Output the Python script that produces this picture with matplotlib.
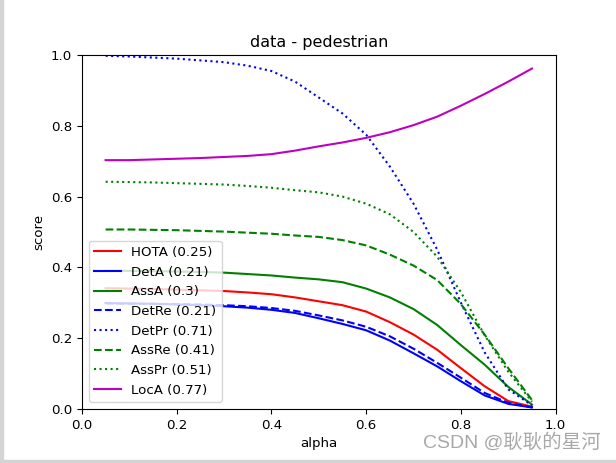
import numpy as np
import matplotlib
matplotlib.use("Agg")
import matplotlib.pyplot as plt
from matplotlib.patches import Rectangle

plt.rcParams['font.size'] = 9.6

alpha = [0.05, 0.1, 0.15, 0.2, 0.25, 0.3, 0.35, 0.4, 0.45, 0.5,
         0.55, 0.6, 0.65, 0.7, 0.75, 0.8, 0.85, 0.9, 0.95]

hota = [0.341, 0.340, 0.339, 0.337, 0.335, 0.333, 0.329, 0.324, 0.315, 0.304,
        0.293, 0.275, 0.245, 0.210, 0.167, 0.115, 0.064, 0.022, 0.006]
deta = [0.299, 0.298, 0.297, 0.295, 0.293, 0.290, 0.286, 0.280, 0.271, 0.256,
        0.240, 0.222, 0.193, 0.157, 0.120, 0.078, 0.038, 0.014, 0.004]
assa = [0.390, 0.390, 0.389, 0.388, 0.387, 0.385, 0.381, 0.377, 0.371, 0.366,
        0.358, 0.340, 0.315, 0.282, 0.237, 0.180, 0.125, 0.062, 0.012]
detre = [0.298, 0.297, 0.297, 0.296, 0.295, 0.293, 0.290, 0.285, 0.277, 0.264,
         0.250, 0.232, 0.205, 0.170, 0.130, 0.088, 0.045, 0.017, 0.004]
detpr = [0.998, 0.996, 0.993, 0.990, 0.985, 0.980, 0.970, 0.955, 0.925, 0.880,
         0.835, 0.775, 0.685, 0.580, 0.450, 0.300, 0.160, 0.055, 0.010]
assre = [0.507, 0.507, 0.506, 0.505, 0.503, 0.501, 0.498, 0.495, 0.490, 0.486,
         0.477, 0.462, 0.436, 0.405, 0.364, 0.296, 0.210, 0.115, 0.025]
asspr = [0.642, 0.641, 0.640, 0.638, 0.636, 0.634, 0.630, 0.625, 0.618, 0.612,
         0.600, 0.580, 0.550, 0.500, 0.430, 0.330, 0.208, 0.105, 0.020]
loca = [0.703, 0.703, 0.705, 0.707, 0.709, 0.712, 0.715, 0.720, 0.730, 0.742,
        0.753, 0.766, 0.782, 0.802, 0.826, 0.857, 0.890, 0.925, 0.962]

labels = ['HOTA (0.25)', 'DetA (0.21)', 'AssA (0.3)', 'DetRe (0.21)',
          'DetPr (0.71)', 'AssRe (0.41)', 'AssPr (0.51)', 'LocA (0.77)']
series = [hota, deta, assa, detre, detpr, assre, asspr, loca]
styles = ['r-', 'b-', 'g-', 'b--', 'b:', 'g--', 'g:', 'm-']

fig = plt.figure(figsize=(6.16, 4.63), dpi=100)
ax = fig.add_subplot(111)
fig.subplots_adjust(left=0.133, right=0.902, bottom=0.117, top=0.881)

for ys, st, lab in zip(series, styles, labels):
    ax.plot(alpha, ys, st, label=lab)

ax.set_xlim(0, 1)
ax.set_ylim(0, 1)
ax.set_xlabel('alpha')
ax.set_ylabel('score')
ax.set_title('data - pedestrian')
ax.legend(loc='lower left')

# screenshot border + watermark
fig.patches.append(Rectangle((0, 0), 3 / 616, 1, transform=fig.transFigure,
                             color='#d4d4d4', zorder=-1))
fig.patches.append(Rectangle((0, 0), 1, 3 / 463, transform=fig.transFigure,
                             color='#d4d4d4', zorder=-1))
fig.text(0.975, 0.045, 'CSDN @耿耿的星河', ha='right', va='center',
         fontsize=14, color='#a8a8a8',
         family=['Liberation Sans', 'Noto Sans CJK SC', 'DejaVu Sans'])

fig.savefig('out.png', dpi=100)
